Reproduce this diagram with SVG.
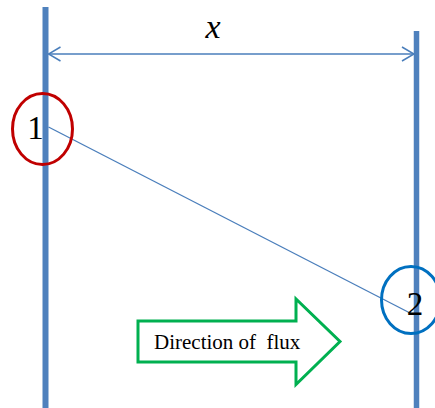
<svg xmlns="http://www.w3.org/2000/svg" width="435" height="408" viewBox="0 0 435 408">
<defs>
<style>
.bar{stroke:#4F81BD;fill:none}
.conn{stroke:#4A7EBB;fill:none;stroke-width:1.3}
.lbl{fill:#000;font-family:'Liberation Serif','DejaVu Serif',serif}
</style>
<marker id="open" viewBox="0 0 14 16" refX="13" refY="8" markerWidth="14" markerHeight="16" markerUnits="userSpaceOnUse" orient="auto-start-reverse">
<path d="M1,1 L13,8 L1,15" fill="none" stroke="#4A7EBB" stroke-width="1.5"/>
</marker>
</defs>
<rect width="435" height="408" fill="#fff"/>
<g id="wall-left"><line class="bar" x1="45.5" y1="7" x2="45.5" y2="408" stroke-width="6"/></g>
<g id="wall-right"><line class="bar" x1="416.5" y1="31" x2="416.5" y2="408" stroke-width="5.5"/></g>
<g id="connectors">
<line class="conn" x1="48.5" y1="54" x2="414" y2="54" marker-start="url(#open)" marker-end="url(#open)"/>
<line class="conn" x1="48.5" y1="127" x2="410" y2="313"/>
</g>
<g id="label-x"><text class="lbl" x="213" y="38" font-size="34" font-style="italic" text-anchor="middle">x</text></g>
<g id="node-1">
<ellipse cx="42.5" cy="129" rx="30" ry="35.5" fill="none" stroke="#C00000" stroke-width="3"/>
<text class="lbl" x="35.5" y="138.5" font-size="33" text-anchor="middle">1</text>
</g>
<g id="node-2">
<ellipse cx="411" cy="300" rx="29.5" ry="33.5" fill="none" stroke="#0070C0" stroke-width="3"/>
<text class="lbl" x="415" y="315" font-size="33" text-anchor="middle">2</text>
</g>
<g id="flux-arrow">
<path d="M138,321 L296,321 L296,299 L340,341.5 L296,384.5 L296,362 L138,362 Z" fill="#fff" stroke="#00B050" stroke-width="3"/>
<text class="lbl" x="154" y="348.5" font-size="21" xml:space="preserve">Direction of  flux</text>
</g>
</svg>
